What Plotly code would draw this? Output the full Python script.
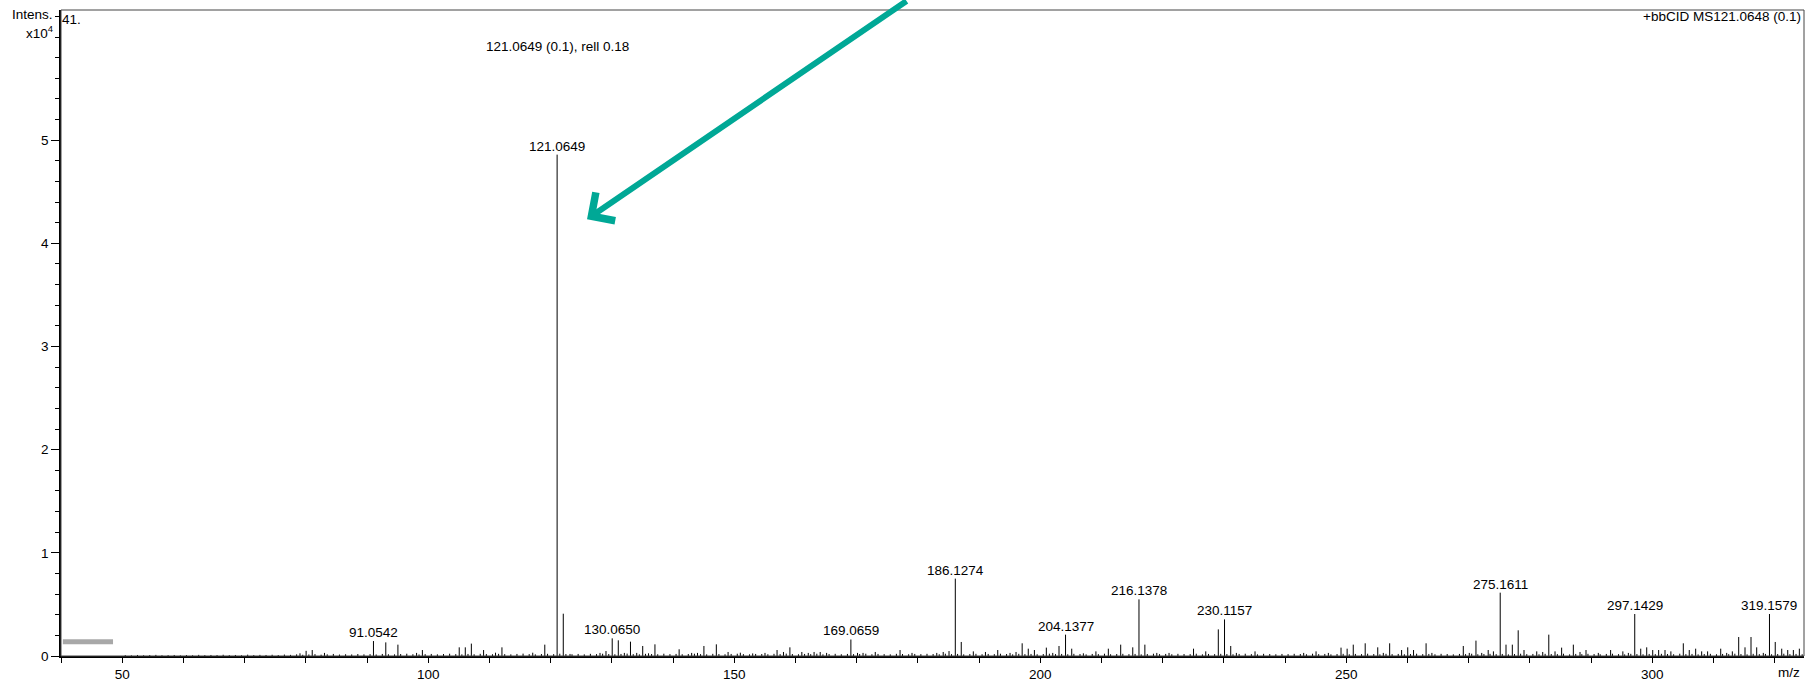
import plotly.graph_objects as go

# ---------------- data (intensity in units of 1e4) ----------------
peak_mz = [79.05, 80.05, 81.05, 83.05, 91.0542, 93.07, 95.05, 98.1, 99.05, 105.07, 106.06, 107.05,
           109.05, 111.0, 112.05, 117.08, 119.05, 121.0649, 122.07, 123.17, 128.07, 129.05, 130.0650,
           131.06, 132.05, 133.05, 134.07, 135.05, 136.0, 137.05, 141.0, 143.05, 144.0, 145.05,
           147.08, 149.0, 151.0, 153.02, 155.03, 157.0, 158.05, 159.1, 161.05, 162.1, 163.05,
           164.05, 165.1, 169.0659, 170.15, 171.05, 173.05, 177.1, 179.05, 183.1, 184.15, 185.1,
           186.1274, 187.1, 189.07, 191.05, 193.06, 195.07, 196.05, 197.05, 198.05, 199.05,
           201.0, 202.05, 203.07, 204.1377, 205.15, 207.05, 209.1, 211.13, 213.15, 215.12,
           216.1378, 217.1, 219.05, 221.05, 225.05, 227.05, 229.1, 230.1157, 231.13, 232.05,
           235.1, 243.05, 245.07, 247.08, 249.15, 250.15, 251.15, 253.1, 255.15, 256.06, 257.1,
           259.05, 260.05, 261.0, 263.05, 264.0, 269.13, 270.11, 271.2, 272.14, 273.2, 274.05,
           275.1611, 276.11, 277.14, 278.1, 279.05, 281.13, 282.11, 283.1, 284.12, 285.2, 287.11,
           288.2, 289.18, 291.19, 293.2, 295.2, 296.1, 297.1429, 298.12, 299.1, 300.08, 301.05,
           302.09, 303.05, 305.08, 306.05, 307.1, 308.08, 309.05, 311.19, 312.17, 313.09, 314.13,
           315.16, 316.14, 317.07, 318.15, 319.1579, 320.1, 321.16, 322.14, 323.06, 324.04]
peak_int = [0.026, 0.050, 0.058, 0.030, 0.145, 0.132, 0.110, 0.030, 0.058, 0.084, 0.084, 0.120,
            0.058, 0.032, 0.084, 0.032, 0.110, 4.860, 0.410, 0.020, 0.030, 0.048, 0.171,
            0.152, 0.030, 0.139, 0.030, 0.097, 0.026, 0.113, 0.065, 0.030, 0.030, 0.097,
            0.113, 0.039, 0.032, 0.025, 0.030, 0.058, 0.039, 0.084, 0.039, 0.030, 0.039,
            0.039, 0.030, 0.160, 0.030, 0.030, 0.039, 0.058, 0.030, 0.030, 0.039, 0.048,
            0.750, 0.136, 0.045, 0.039, 0.058, 0.030, 0.039, 0.123, 0.071, 0.058,
            0.081, 0.030, 0.097, 0.207, 0.071, 0.026, 0.045, 0.071, 0.110, 0.084,
            0.549, 0.110, 0.030, 0.030, 0.071, 0.045, 0.258, 0.355, 0.097, 0.030,
            0.045, 0.030, 0.045, 0.030, 0.081, 0.071, 0.110, 0.123, 0.084, 0.030, 0.123,
            0.058, 0.084, 0.058, 0.123, 0.030, 0.097, 0.030, 0.149, 0.030, 0.058, 0.045,
            0.614, 0.110, 0.110, 0.249, 0.058, 0.045, 0.039, 0.207, 0.045, 0.081, 0.110,
            0.039, 0.058, 0.030, 0.058, 0.045, 0.030, 0.407, 0.071, 0.084, 0.058, 0.058,
            0.058, 0.045, 0.123, 0.058, 0.071, 0.045, 0.045, 0.071, 0.030, 0.045, 0.184,
            0.084, 0.184, 0.084, 0.030, 0.407, 0.136, 0.071, 0.058, 0.058, 0.071]

labeled_mz = [91.0542, 121.0649, 130.0650, 169.0659, 186.1274, 204.1377, 216.1378,
              230.1157, 275.1611, 297.1429, 319.1579]
labeled_text = ["91.0542", "121.0649", "130.0650", "169.0659", "186.1274", "204.1377",
                "216.1378", "230.1157", "275.1611", "297.1429", "319.1579"]

noise_start = 50
noise_int = [
    0.008, 0.006, 0.010, 0.007, 0.009, 0.011, 0.007, 0.008, 0.010, 0.006,
    0.009, 0.007, 0.011, 0.008, 0.010, 0.009, 0.012, 0.008, 0.010, 0.007,
    0.013, 0.009, 0.011, 0.010, 0.012, 0.009, 0.014, 0.011, 0.016, 0.012,
    0.015, 0.018, 0.013, 0.016, 0.020, 0.014, 0.017, 0.015, 0.019, 0.016,
    0.018, 0.015, 0.020, 0.017, 0.016, 0.019, 0.022, 0.017, 0.015, 0.018,
    0.020, 0.016, 0.019, 0.022, 0.018, 0.016, 0.020, 0.017, 0.021, 0.019,
    0.017, 0.021, 0.018, 0.016, 0.020, 0.023, 0.018, 0.016, 0.019, 0.021,
    0.018, 0.022, 0.019, 0.017, 0.020, 0.016, 0.021, 0.018, 0.022, 0.019,
    0.017, 0.020, 0.023, 0.018, 0.016, 0.021, 0.019, 0.017, 0.022, 0.018,
    0.020, 0.017, 0.019, 0.022, 0.018, 0.016, 0.021, 0.019, 0.017, 0.020,
    0.022, 0.018, 0.016, 0.020, 0.019, 0.017, 0.021, 0.018, 0.023, 0.019,
    0.017, 0.020, 0.018, 0.022, 0.016, 0.019, 0.021, 0.017, 0.020, 0.018,
    0.019, 0.022, 0.017, 0.020, 0.018, 0.016, 0.021, 0.019, 0.017, 0.020,
    0.018, 0.021, 0.019, 0.017, 0.022, 0.018, 0.020, 0.016, 0.019, 0.021,
    0.017, 0.020, 0.018, 0.022, 0.019, 0.016, 0.021, 0.018, 0.020, 0.017,
    0.019, 0.022, 0.018, 0.020, 0.017, 0.021, 0.019, 0.016, 0.020, 0.018,
    0.022, 0.017, 0.019, 0.021, 0.018, 0.020, 0.016, 0.019, 0.022, 0.018,
    0.020, 0.017, 0.021, 0.019, 0.018, 0.022, 0.016, 0.020, 0.018, 0.021,
    0.019, 0.017, 0.020, 0.022, 0.018, 0.016, 0.021, 0.019, 0.017, 0.020,
    0.018, 0.021, 0.019, 0.017, 0.022, 0.018, 0.020, 0.016, 0.019, 0.021,
    0.017, 0.020, 0.018, 0.022, 0.019, 0.016, 0.021, 0.018, 0.020, 0.017,
    0.019, 0.022, 0.018, 0.020, 0.017, 0.021, 0.019, 0.016, 0.020, 0.018,
    0.022, 0.017, 0.019, 0.021, 0.018, 0.020, 0.016, 0.019, 0.022, 0.018,
    0.020, 0.017, 0.021, 0.019, 0.018, 0.022, 0.016, 0.020, 0.018, 0.021,
    0.019, 0.017, 0.020, 0.022, 0.018, 0.016, 0.021, 0.019, 0.017, 0.020,
    0.018, 0.021, 0.019, 0.017, 0.022, 0.018, 0.020, 0.016, 0.019, 0.021,
    0.017, 0.020, 0.018, 0.022, 0.019, 0.016, 0.021, 0.018, 0.020, 0.017,
    0.019, 0.022, 0.018, 0.020, 0.017,
]
noise_mz = [noise_start + i + 0.5 for i in range(len(noise_int))]

x_ticks = [50, 100, 150, 200, 250, 300]
y_ticks = [0, 1, 2, 3, 4, 5]

title_right = "+bbCID MS121.0648 (0.1)"
title_prec = "121.0649 (0.1), rell 0.18"
corner_text = "41."

FONT = "Liberation Sans, Arial, Helvetica, sans-serif"
FS = 13.5
TEAL = "#00a896"

# ---------------- build stick spectrum ----------------
def sticks(mzs, ints):
    xs, ys = [], []
    for m, h in zip(mzs, ints):
        xs += [m, m, None]
        ys += [0, h, None]
    return xs, ys

fig = go.Figure()
nx, ny = sticks(noise_mz, noise_int)
fig.add_trace(go.Scatter(x=nx, y=ny, mode="lines", line=dict(color="black", width=1),
                         hoverinfo="skip", showlegend=False))
px_, py_ = sticks(peak_mz, peak_int)
fig.add_trace(go.Scatter(x=px_, y=py_, mode="lines", line=dict(color="black", width=1),
                         hoverinfo="skip", showlegend=False))

lookup = dict(zip(peak_mz, peak_int))
annotations = []
for m, t in zip(labeled_mz, labeled_text):
    annotations.append(dict(x=m, y=lookup[m], text=t, showarrow=False, xanchor="center",
                            yanchor="bottom", yshift=-1, font=dict(size=FS, color="black", family=FONT)))

annotations += [
    dict(x=121.0649, xref="x", y=0.944, yref="paper", text=title_prec, showarrow=False,
         xanchor="center", yanchor="middle", font=dict(size=FS, color="black", family=FONT)),
    dict(x=1, xref="paper", y=0.990, yref="paper", text=title_right, showarrow=False,
         xanchor="right", yanchor="middle", xshift=-1, font=dict(size=FS, color="black", family=FONT)),
    dict(x=0, xref="paper", y=0.985, yref="paper", text=corner_text, showarrow=False,
         xanchor="left", yanchor="middle", xshift=-1, font=dict(size=FS, color="black", family=FONT)),
    dict(x=0, xref="paper", y=0.993, yref="paper", text="Intens.", showarrow=False,
         xanchor="right", yanchor="middle", xshift=-6, font=dict(size=FS, color="black", family=FONT)),
    dict(x=0, xref="paper", y=0.966, yref="paper", text="x10<sup>4</sup>", showarrow=False,
         xanchor="right", yanchor="middle", xshift=-6, font=dict(size=FS, color="black", family=FONT)),
    dict(x=1, xref="paper", y=-0.025, yref="paper", text="m/z", showarrow=False,
         xanchor="right", yanchor="middle", xshift=-2, font=dict(size=FS, color="black", family=FONT)),
    # green arrow
    dict(x=125.95, y=4.234, xref="x", yref="y", ax=321, ay=-229, text="", showarrow=True,
         arrowhead=4, arrowsize=1.1, arrowwidth=6, arrowcolor=TEAL, standoff=0),
]

shapes = [
    dict(type="rect", xref="paper", yref="paper", x0=0, x1=1, y0=0, y1=1,
         line=dict(color="#444444", width=1), fillcolor="rgba(0,0,0,0)", layer="above"),
    dict(type="line", xref="x", yref="y", x0=40.3, x1=48.5, y0=0.137, y1=0.137,
         line=dict(color="#a8a8a8", width=5)),
]

fig.update_layout(
    template="none",
    width=1807, height=681, autosize=False,
    margin=dict(l=61, r=3, t=10, b=25, pad=0),
    paper_bgcolor="white", plot_bgcolor="white",
    font=dict(family=FONT, size=FS, color="black"),
    annotations=annotations, shapes=shapes, showlegend=False,
    xaxis=dict(range=[40, 324.8], automargin=False, showgrid=False, zeroline=False, showline=True,
               linecolor="black", linewidth=1.5, ticks="outside", ticklen=5, tickwidth=1,
               tickcolor="black", tickvals=x_ticks, ticktext=[str(v) for v in x_ticks],
               tickfont=dict(size=FS, family=FONT, color="black"),
               minor=dict(dtick=10, tick0=0, ticks="outside", ticklen=5, tickcolor="black", tickwidth=1)),
    yaxis=dict(range=[0, 6.262], automargin=False, showgrid=False, zeroline=False, showline=True,
               linecolor="black", linewidth=1.5, ticks="outside", ticklen=8, tickwidth=1,
               tickcolor="black", tickvals=y_ticks, ticktext=[str(v) for v in y_ticks],
               tickfont=dict(size=FS, family=FONT, color="black"),
               minor=dict(dtick=0.2, tick0=0, ticks="outside", ticklen=4, tickcolor="black", tickwidth=1)),
)

fig.write_html("out.html", config={"displayModeBar": False},
               post_script="document.body.style.margin='0px';document.body.style.overflow='hidden';")
